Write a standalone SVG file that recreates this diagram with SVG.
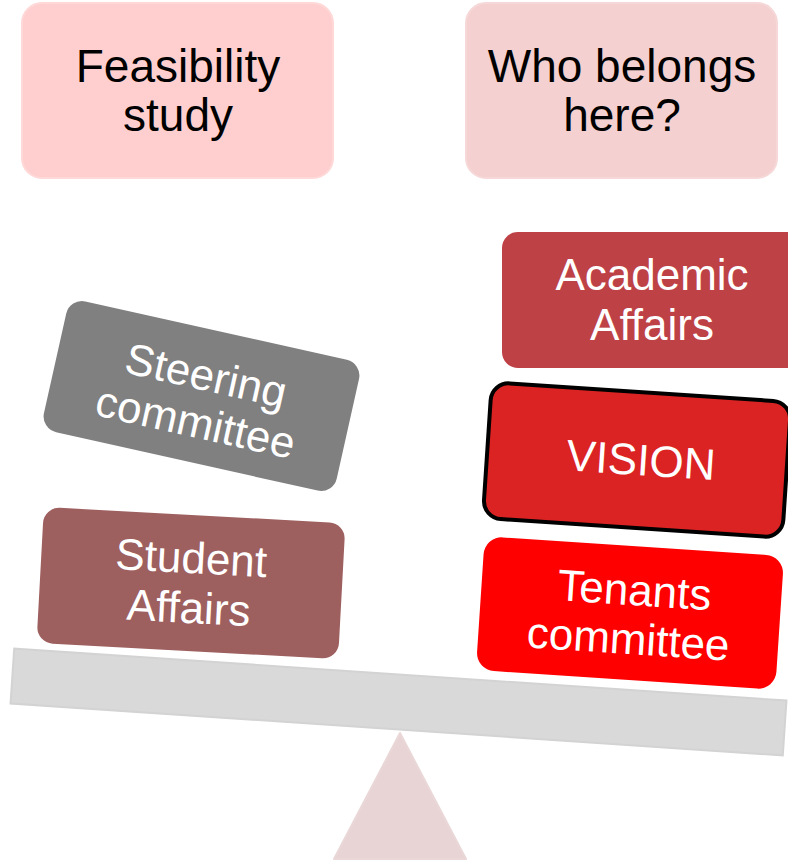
<svg xmlns="http://www.w3.org/2000/svg" width="788" height="864" viewBox="0 0 788 864">
<style>
.dk{font-family:"Liberation Sans",Arial,sans-serif;font-size:46px;fill:#000;text-anchor:middle}
.wt{font-family:"Liberation Sans",Arial,sans-serif;font-size:44px;fill:#fff;text-anchor:middle}
</style>
<rect width="788" height="864" fill="#fff"/>
<g id="fulcrum">
<path d="M400,733 L466,859 L334,859 Z" fill="#e8d4d4" stroke="#ead8d8" stroke-width="2" stroke-linejoin="round"/>
</g>
<g id="beam">
<rect x="-387" y="-27.5" width="774" height="55" transform="translate(398.5,702) rotate(3.85)" fill="#d9d9d9" stroke="#d3d3d3" stroke-width="2"/>
</g>
<g id="feasibility">
<rect x="22" y="3" width="311" height="175" rx="20" fill="#ffcfcf" stroke="#ffd8d8" stroke-width="2"/>
<text class="dk" x="178" y="82">Feasibility</text>
<text class="dk" x="178" y="131">study</text>
</g>
<g id="who-belongs">
<rect x="466" y="3" width="311" height="175" rx="20" fill="#f4d0d0" stroke="#f6d8d8" stroke-width="2"/>
<text class="dk" x="622" y="82">Who belongs</text>
<text class="dk" x="622" y="131">here?</text>
</g>
<g id="academic-affairs">
<rect x="502" y="232" width="300" height="136" rx="16" fill="#be4146"/>
<text class="wt" x="652" y="290">Academic</text>
<text class="wt" x="652" y="340">Affairs</text>
</g>
<g id="steering-committee" transform="translate(201.5,396) rotate(12.6)">
<rect x="-150" y="-67" width="300" height="134" rx="16" fill="#808080"/>
<text class="wt" x="0" y="-6">Steering</text>
<text class="wt" x="0" y="42">committee</text>
</g>
<g id="student-affairs" transform="translate(190,583) rotate(3.1)">
<rect x="-150" y="-68" width="302" height="136" rx="16" fill="#9e5f5f"/>
<text class="wt" x="0" y="-10">Student</text>
<text class="wt" x="0" y="40">Affairs</text>
</g>
<g id="vision" transform="translate(637,460) rotate(3.8)">
<rect x="-150" y="-68" width="300" height="136" rx="18" fill="#dc2323" stroke="#000" stroke-width="4"/>
<text class="wt" x="4" y="15">VISION</text>
</g>
<g id="tenants-committee" transform="translate(630,613) rotate(3.8)">
<rect x="-150" y="-67" width="300" height="134" rx="18" fill="#ff0000"/>
<text class="wt" x="3" y="-8" font-size="46">Tenants</text>
<text class="wt" x="0" y="41" font-size="46">committee</text>
</g>
<g id="connectors"></g>
</svg>
